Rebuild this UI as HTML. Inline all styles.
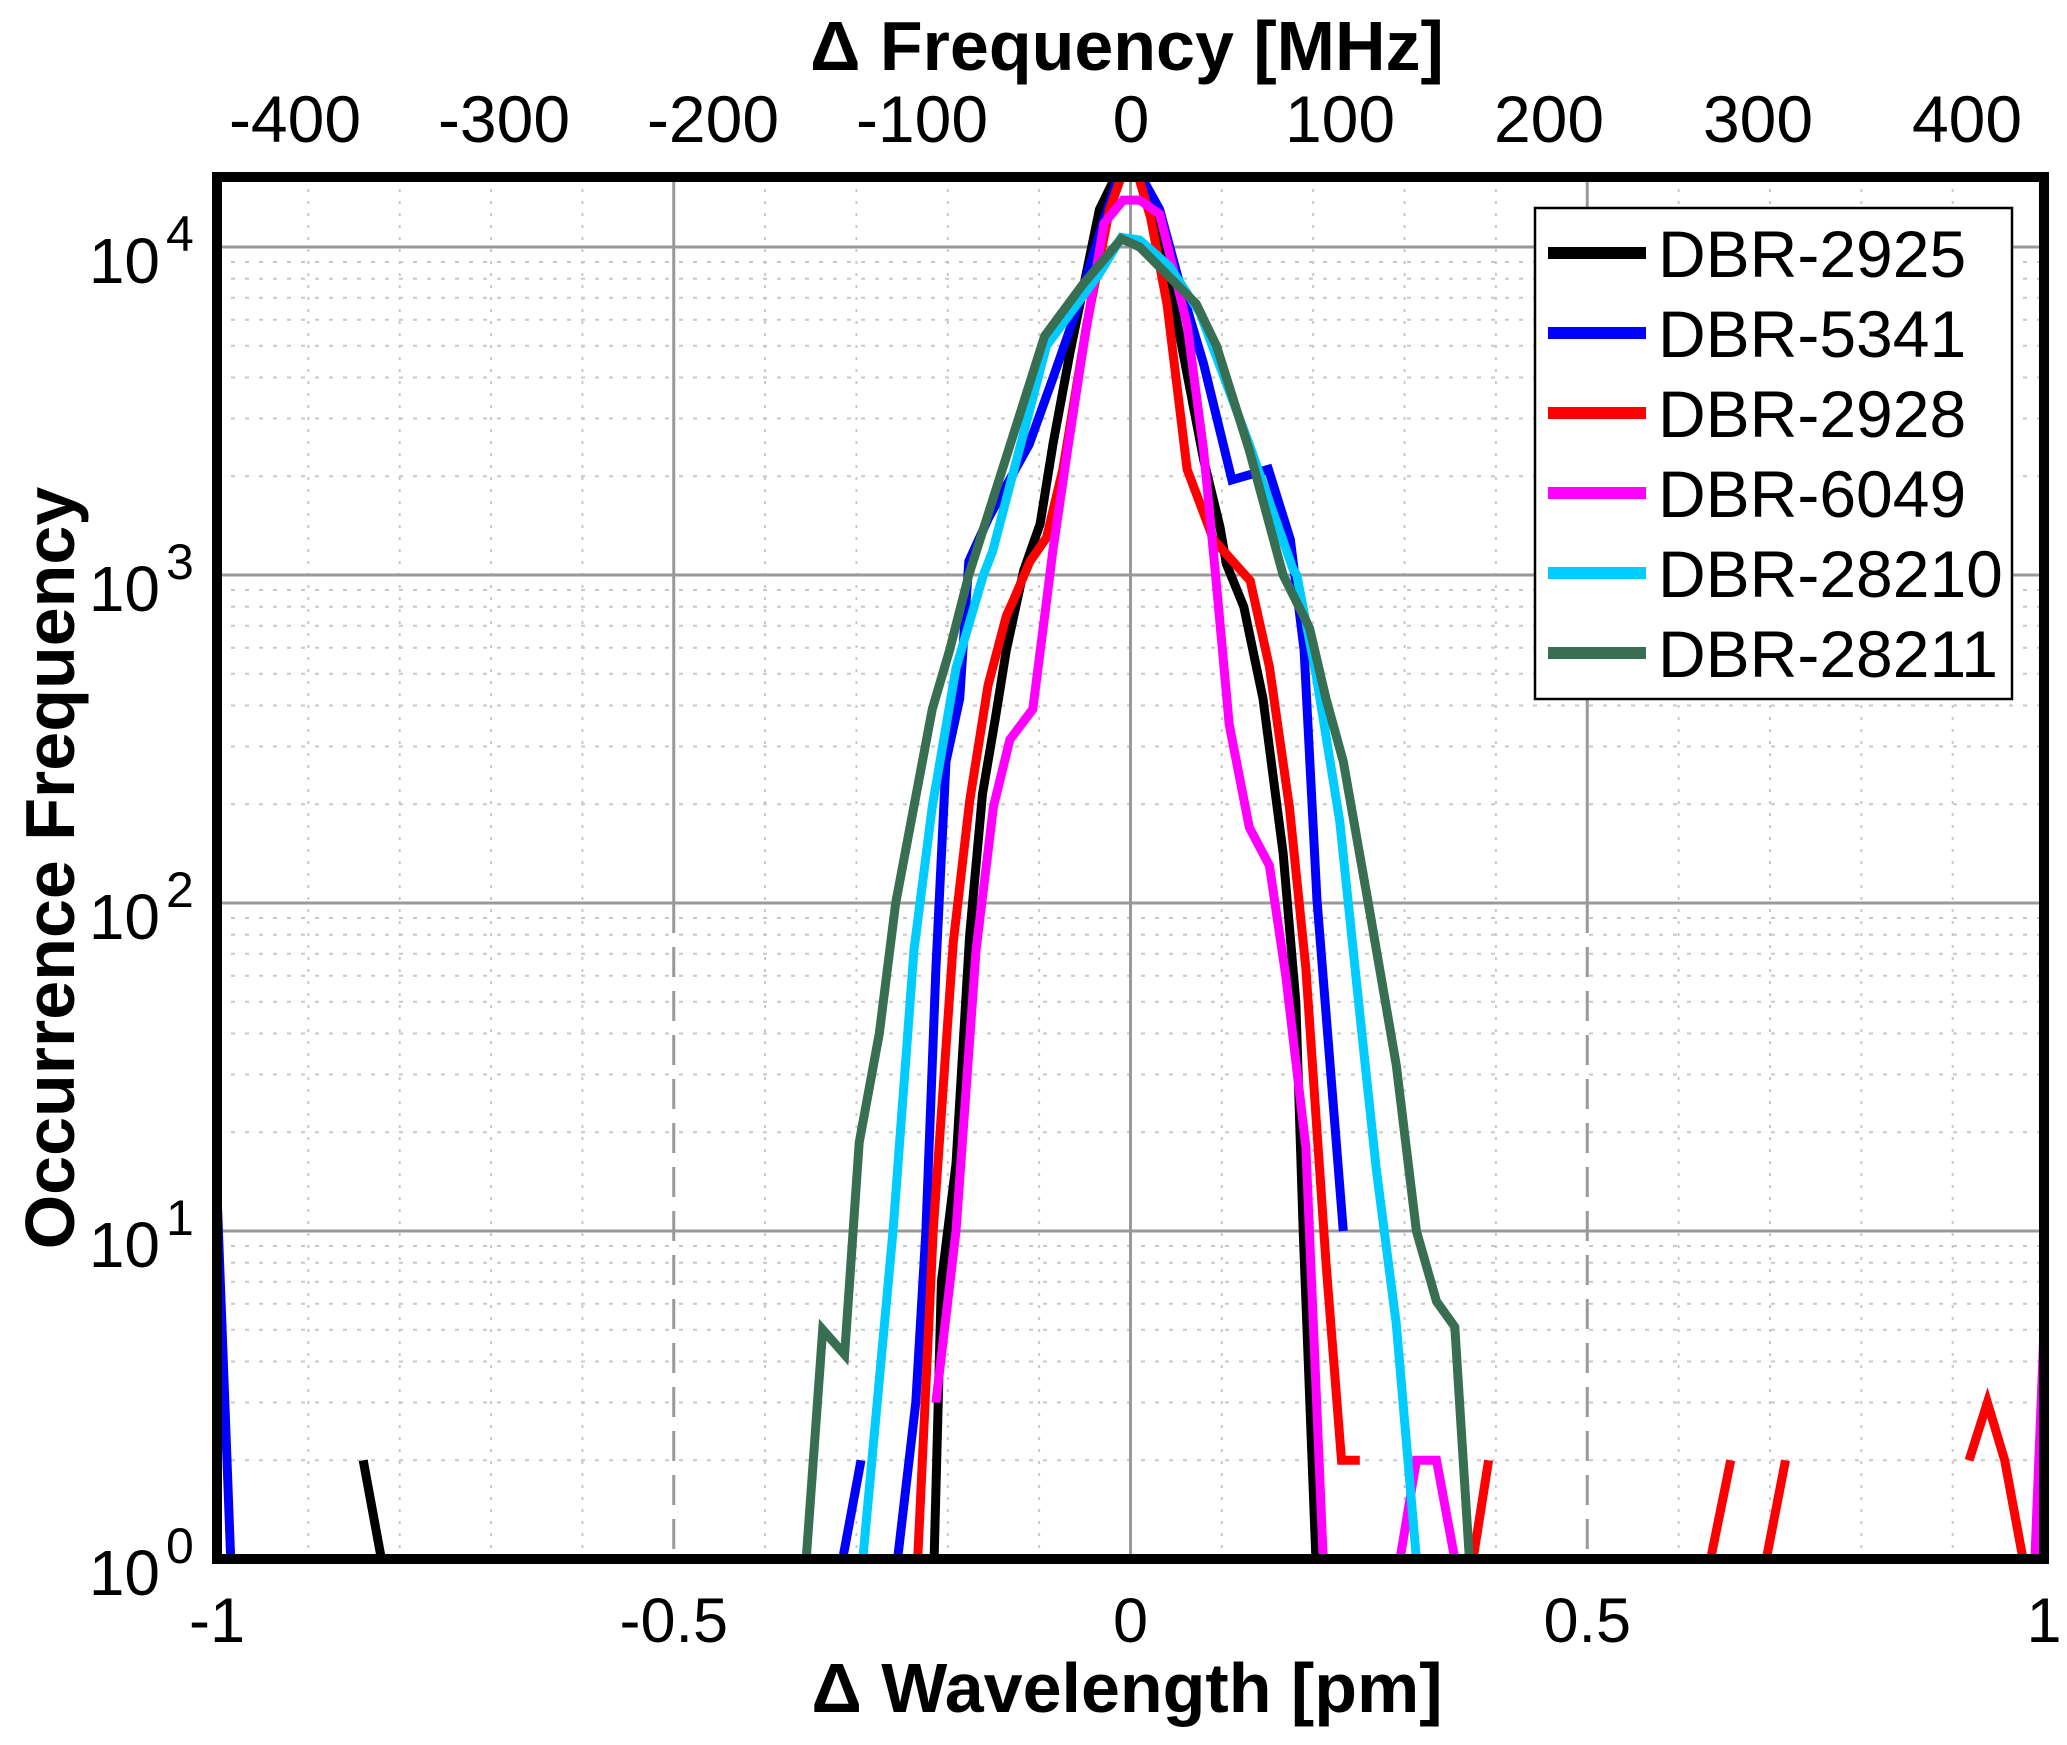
<!DOCTYPE html>
<html><head><meta charset="utf-8"><style>
html,body{margin:0;padding:0;background:#fff;}
svg{display:block;font-family:"Liberation Sans",Arial,sans-serif;}
</style></head><body>
<svg id="chart" width="2067" height="1745" viewBox="0 0 2067 1745" xmlns="http://www.w3.org/2000/svg">
<defs><clipPath id="plotclip"><rect x="217" y="177" width="1827" height="1382"/></clipPath></defs>
<g id="grid"></g>
<g id="series" clip-path="url(#plotclip)"></g>
<rect x="217" y="177" width="1827" height="1382" fill="none" stroke="#000" stroke-width="10"/>
<g id="ticks"></g>
<text x="1127" y="70" text-anchor="middle" font-size="70" font-weight="bold">Δ Frequency [MHz]</text>
<text x="1127" y="1712" text-anchor="middle" font-size="70" font-weight="bold">Δ Wavelength [pm]</text>
<text transform="translate(74,868) rotate(-90)" text-anchor="middle" font-size="70" font-weight="bold">Occurrence Frequency</text>
<g id="legend">
<rect x="1535" y="208" width="477" height="491" fill="#fff" stroke="#000" stroke-width="2.5"/>
</g>
</svg>
<script>
const names = ["DBR-2925","DBR-5341","DBR-2928","DBR-6049","DBR-28210","DBR-28211"];
const colors = ["#000000","#0000ff","#ff0000","#ff00ff","#00ccff","#386e52"];
const xTicks = [-1,-0.5,0,0.5,1];
const xTickLabels = ["-1","-0.5","0","0.5","1"];
const topTicks = [-400,-300,-200,-100,0,100,200,300,400];
const yTickExps = [0,1,2,3,4];
// null = break (zero count)
const x2925 = [-0.84,-0.82,null,-0.215,-0.207,-0.191,-0.176,-0.162,-0.148,-0.136,-0.117,-0.099,-0.085,-0.066,-0.034,-0.016,0,0.010,0.043,0.080,0.098,0.105,0.124,0.145,0.167,0.181,0.189,0.203];
const y2925 = [2,1,null,1,7,16,80,215,365,590,1030,1430,2500,4800,13000,16500,18500,16500,7700,2250,1400,1080,800,420,142,50,10,1];
const x5341 = [-1.0,-0.985,null,-0.315,-0.295,null,-0.255,-0.235,-0.224,-0.213,-0.202,-0.187,-0.177,-0.155,-0.111,-0.086,-0.060,-0.034,-0.016,0,0.014,0.032,0.054,0.080,0.111,0.151,0.175,0.190,0.204,0.233];
const y5341 = [13,1,null,1,2,null,1,3,10,63,270,420,1100,1500,2500,3900,6300,11000,15600,18500,16000,13000,7700,4400,1950,2100,1280,590,103,10];
const x2928 = [-0.233,-0.216,-0.194,-0.176,-0.156,-0.136,-0.128,-0.110,-0.092,-0.074,-0.048,-0.023,-0.008,0.007,0.022,0.040,0.062,0.091,0.131,0.152,0.174,0.192,0.214,0.231,0.251,null,0.375,0.392,null,0.635,0.657,null,0.696,0.717,null,0.918,0.938,0.957,0.977];
const y2928 = [1,10,76,205,460,750,840,1100,1300,2100,5800,13000,17000,17000,12300,6700,2100,1280,960,525,196,63,8,2,2,null,1,2,null,1,2,null,1,2,null,2,3,2,1];
const x6049 = [-0.213,-0.191,-0.169,-0.150,-0.132,-0.107,-0.092,-0.085,-0.069,-0.051,-0.029,-0.008,0.010,0.032,0.062,0.080,0.094,0.108,0.130,0.152,0.170,0.192,0.211,null,0.295,0.313,0.335,0.355,null,0.99,1.0];
const y6049 = [3,10,72,197,315,390,830,1190,2400,5100,11800,13900,13900,12600,5800,2400,940,350,170,130,60,18,1,null,1,2,2,1,null,1,5];
const x28210 = [-0.293,-0.260,-0.237,-0.217,-0.191,-0.161,-0.151,-0.092,-0.034,-0.010,0.010,0.043,0.076,0.130,0.178,0.182,0.203,0.229,0.251,0.269,0.291,0.313];
const y28210 = [1,10,72,197,520,1000,1180,5000,8300,10700,10500,8700,6300,2500,1040,1000,500,178,46,15.5,5.2,1];
const x28211 = [-0.355,-0.337,-0.313,-0.297,-0.275,-0.257,-0.217,-0.198,-0.177,-0.136,-0.094,-0.052,-0.010,0.010,0.072,0.094,0.130,0.167,0.196,0.214,0.233,0.262,0.291,0.313,0.335,0.355,0.371];
const y28211 = [1,5,4.2,18.6,40,100,390,590,1000,2290,5350,7700,10600,10000,6700,5000,2400,1000,690,420,270,94,32,10,6.1,5.1,1];
const seriesX = [x2925,x5341,x2928,x6049,x28210,x28211];
const seriesY = [y2925,y5341,y2928,y6049,y28210,y28211];

const NS="http://www.w3.org/2000/svg";
const X0=217,X1=2044,Y0=1559,DEC=328;
const xs = v => X0 + (v+1)/2*(X1-X0);
const ys = v => Y0 - Math.log10(v)*DEC;
const xMHz = m => 1131 + m*2.09;
function mk(tag,parent){const e=document.createElementNS(NS,tag);parent.appendChild(e);return e;}
const grid=document.getElementById('grid');
// minor x dotted
for(let i=-9;i<=9;i++){ if(i%5===0) continue; const v=i/10;
  const l=mk('line',grid);
  
  
  l.setAttribute('x1',xs(v));l.setAttribute('x2',xs(v));l.setAttribute('y1',177);l.setAttribute('y2',Y0);
  l.setAttribute('stroke','#c8c8c8');l.setAttribute('stroke-width','2');l.setAttribute('stroke-dasharray','3 9');}
// minor y dotted
for(let d=0;d<4;d++){for(let k=2;k<=9;k++){const y=ys(k*Math.pow(10,d)); if(y<177) continue;
  const l=mk('line',grid);
  
  
  l.setAttribute('x1',X0);l.setAttribute('x2',X1);l.setAttribute('y1',y);l.setAttribute('y2',y);
  l.setAttribute('stroke','#c8c8c8');l.setAttribute('stroke-width','2');l.setAttribute('stroke-dasharray','4 10');}}
// major y
yTickExps.forEach(e=>{const y=ys(Math.pow(10,e));
  const l=mk('line',grid);
  
  
  l.setAttribute('x1',X0);l.setAttribute('x2',X1);l.setAttribute('y1',y);l.setAttribute('y2',y);
  l.setAttribute('stroke','#999');l.setAttribute('stroke-width','3');});
// major x
[-0.5,0,0.5].forEach(v=>{
  const l=mk('line',grid);
  
  
  l.setAttribute('x1',xs(v));l.setAttribute('x2',xs(v));l.setAttribute('y1',177);l.setAttribute('y2',v===0?Y0:ys(100));
  l.setAttribute('stroke','#999');l.setAttribute('stroke-width','3');
  if(v!==0){const d=mk('line',grid);
    
    
    d.setAttribute('x1',xs(v));d.setAttribute('x2',xs(v));d.setAttribute('y1',ys(100));d.setAttribute('y2',Y0);
    d.setAttribute('stroke','#999');d.setAttribute('stroke-width','3');d.setAttribute('stroke-dasharray','30 14');}
});
// series
const sg=document.getElementById('series');
seriesX.forEach((xa,si)=>{const ya=seriesY[si];let segs=[],cur=[];
  for(let i=0;i<xa.length;i++){ if(xa[i]===null||ya[i]===null){ if(cur.length) segs.push(cur); cur=[]; } else cur.push(xs(xa[i]).toFixed(1)+','+ys(ya[i]).toFixed(1)); }
  if(cur.length) segs.push(cur);
  segs.forEach(s=>{const p=mk('polyline',sg);
    
    
    p.setAttribute('points',s.join(' '));p.setAttribute('fill','none');p.setAttribute('stroke',colors[si]);
    p.setAttribute('stroke-width','9');p.setAttribute('stroke-linejoin','miter');});
});
// tick labels
const tg=document.getElementById('ticks');
xTicks.forEach((v,i)=>{const t=mk('text',tg);
  
  
  t.setAttribute('x',xs(v));t.setAttribute('y',1642);t.setAttribute('text-anchor','middle');t.setAttribute('font-size','63');t.textContent=xTickLabels[i];});
topTicks.forEach(m=>{const t=mk('text',tg);
  
  
  t.setAttribute('x',xMHz(m));t.setAttribute('y',142);t.setAttribute('text-anchor','middle');t.setAttribute('font-size','66');t.textContent=String(m);});
yTickExps.forEach(e=>{const y=ys(Math.pow(10,e));
  const t=mk('text',tg);
  
  
  t.setAttribute('x',160);t.setAttribute('y',y+36);t.setAttribute('text-anchor','end');t.setAttribute('font-size','64');t.textContent='10';
  const s=mk('text',tg);
  
  
  s.setAttribute('x',166);s.setAttribute('y',y+4);s.setAttribute('font-size','50');s.textContent=String(e);});
// legend
const lg=document.getElementById('legend');
names.forEach((n,i)=>{const y=253+i*80;
  const l=mk('line',lg);
  
  
  l.setAttribute('x1',1548);l.setAttribute('x2',1646);l.setAttribute('y1',y);l.setAttribute('y2',y);l.setAttribute('stroke',colors[i]);l.setAttribute('stroke-width','12');
  const t=mk('text',lg);
  
  
  t.setAttribute('x',1658);t.setAttribute('y',y+24);t.setAttribute('font-size','66');t.textContent=n;});
</script>
</body></html>
